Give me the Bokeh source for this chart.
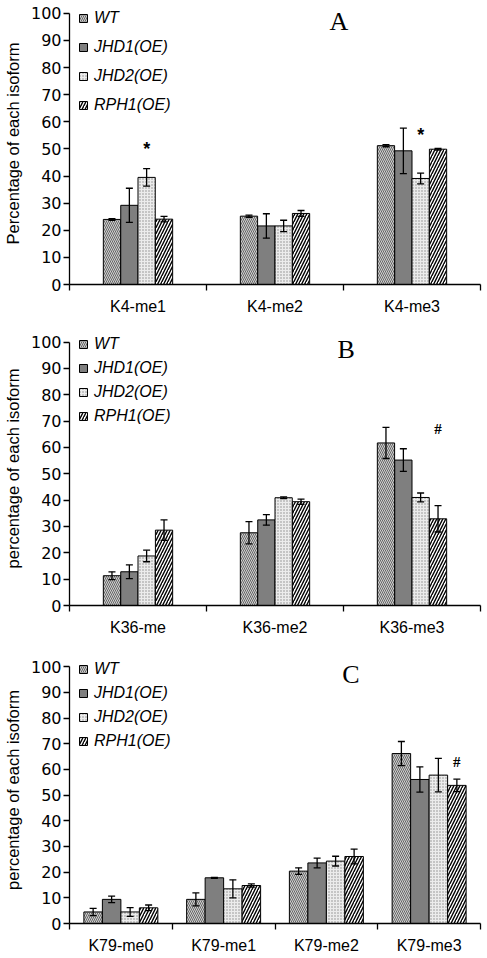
from bokeh.plotting import figure
from bokeh.models import (ColumnDataSource, Range1d, FixedTicker, Whisker, TeeHead,
                          Label, Legend)
from bokeh.layouts import column
from bokeh.core.properties import value
from bokeh.embed import file_html
from bokeh.resources import INLINE

# ---------------- data ----------------
series = ["WT", "JHD1(OE)", "JHD2(OE)", "RPH1(OE)"]

A_cats = ["K4-me1", "K4-me2", "K4-me3"]
A_WT = [24.0, 25.2, 51.2]
A_WT_err = [0.3, 0.4, 0.4]
A_JHD1 = [29.2, 21.6, 49.3]
A_JHD1_err = [6.3, 4.5, 8.4]
A_JHD2 = [39.5, 21.6, 39.1]
A_JHD2_err = [3.2, 2.1, 2.0]
A_RPH1 = [24.1, 26.2, 49.9]
A_RPH1_err = [1.0, 1.1, 0.3]
A_marks = ["*", "", "*"]          # significance marks over JHD2(OE)
A_mark_y = [49.8, 0, 55.3]

B_cats = ["K36-me", "K36-me2", "K36-me3"]
B_WT = [11.3, 27.6, 61.7]
B_WT_err = [1.5, 4.2, 5.9]
B_JHD1 = [12.8, 32.5, 55.2]
B_JHD1_err = [2.6, 2.0, 4.3]
B_JHD2 = [18.8, 40.9, 41.0]
B_JHD2_err = [2.2, 0.3, 1.7]
B_RPH1 = [28.6, 39.4, 32.9]
B_RPH1_err = [3.9, 1.0, 5.0]
B_marks = ["", "", "#"]           # marks over RPH1(OE)
B_mark_y = [0, 0, 67.0]

C_cats = ["K79-me0", "K79-me1", "K79-me2", "K79-me3"]
C_WT = [4.5, 9.4, 20.4, 66.2]
C_WT_err = [1.4, 2.5, 1.3, 4.7]
C_JHD1 = [9.4, 17.8, 23.6, 56.1]
C_JHD1_err = [1.3, 0.2, 1.9, 4.9]
C_JHD2 = [4.5, 13.5, 24.3, 57.8]
C_JHD2_err = [1.7, 3.5, 1.9, 6.5]
C_RPH1 = [6.1, 14.8, 26.1, 53.8]
C_RPH1_err = [1.1, 0.6, 2.9, 2.4]
C_marks = ["", "", "", "#"]       # marks over RPH1(OE)
C_mark_y = [0, 0, 0, 62.8]

y_ticks = list(range(0, 101, 10))

# ---------------- styles ----------------
STYLES = [
    dict(fill_color="#d0d0d0", hatch_pattern="\\", hatch_color="#4a4a4a", hatch_scale=4, hatch_weight=0.8),
    dict(fill_color="#7f7f7f"),
    dict(fill_color="#ececec", hatch_pattern=".", hatch_color="#8a8a8a", hatch_scale=3, hatch_weight=0.8),
    dict(fill_color="white", hatch_pattern="/", hatch_color="black", hatch_scale=6, hatch_weight=1.4),
]

SANS = "Liberation Sans"
TICKFONT = "DejaVu Sans"


def make_panel(cats, vals, errs, marks, mark_y, mark_series, letter, letter_x, ylabel,
               height, border_top, border_bottom, bar_w, offsets, legend_spacing, legend_vy,
               mark_font, mark_size):
    n = len(cats)
    p = figure(width=484, height=height, output_backend="svg", toolbar_location=None,
               x_range=Range1d(0, n), y_range=Range1d(0, 104),
               min_border_left=68, min_border_right=4,
               min_border_top=border_top, min_border_bottom=border_bottom)
    p.outline_line_color = None
    p.grid.visible = False
    p.background_fill_color = "white"

    centers = [i + 0.5 for i in range(n)]
    legend_items = []
    for k, name in enumerate(series):
        xs = [c + offsets[k] for c in centers]
        top = vals[k]
        err = errs[k]
        src = ColumnDataSource(dict(x=xs, top=top,
                                    upper=[t + e for t, e in zip(top, err)],
                                    lower=[t - e for t, e in zip(top, err)]))
        r = p.vbar(x="x", top="top", bottom=0, width=bar_w, source=src,
                   line_color="black", line_width=1, **STYLES[k])
        legend_items.append((name, [r]))
        w = Whisker(base="x", upper="upper", lower="lower", source=src, level="overlay",
                    line_color="black", line_width=1.3,
                    upper_head=TeeHead(size=7, line_color="black", line_width=1.3),
                    lower_head=TeeHead(size=7, line_color="black", line_width=1.3))
        p.add_layout(w)

    # significance marks
    mx = [c + offsets[mark_series] for c in centers]
    msrc = ColumnDataSource(dict(x=mx, y=mark_y, t=marks))
    p.text(x="x", y="y", text="t", source=msrc, text_align="center", text_baseline="middle",
           text_font=value(mark_font), text_font_size=mark_size, text_font_style="bold",
           text_color="black")

    # panel letter
    p.add_layout(Label(x=letter_x, y=97.0, text=letter, text_align="center",
                       text_baseline="middle", text_font="Liberation Serif",
                       text_font_size="26px", text_color="black"))

    # y axis
    ya = p.yaxis[0]
    ya.ticker = FixedTicker(ticks=y_ticks)
    ya.bounds = (0, 100)
    ya.axis_label = ylabel
    ya.axis_label_text_font = SANS
    ya.axis_label_text_font_size = "16.5px"
    ya.axis_label_text_font_style = "normal"
    ya.axis_label_text_color = "black"
    ya.axis_label_standoff = 6
    ya.major_label_text_font = TICKFONT
    ya.major_label_text_font_size = "16px"
    ya.major_label_text_color = "black"
    ya.major_label_standoff = 2
    ya.major_tick_out = 6
    ya.major_tick_in = 0
    ya.minor_tick_line_color = None
    ya.axis_line_color = "black"
    ya.axis_line_width = 1.3
    ya.major_tick_line_width = 1.3

    # x axis
    xa = p.xaxis[0]
    xa.ticker = FixedTicker(ticks=centers, minor_ticks=list(range(n + 1)))
    xa.major_label_overrides = {c: name for c, name in zip(centers, cats)}
    xa.major_label_text_font = SANS
    xa.major_label_text_font_size = "16px"
    xa.major_label_text_color = "black"
    xa.major_label_standoff = 7
    xa.major_tick_line_color = None
    xa.major_tick_out = 0
    xa.major_tick_in = 0
    xa.minor_tick_line_color = "black"
    xa.minor_tick_line_width = 1.3
    xa.minor_tick_out = 6
    xa.minor_tick_in = 0
    xa.axis_line_color = "black"
    xa.axis_line_width = 1.3

    leg = Legend(items=legend_items, location=(9, legend_vy), orientation="vertical")
    leg.glyph_width = 10
    leg.glyph_height = 10
    leg.label_height = 20
    leg.spacing = legend_spacing
    leg.padding = 0
    leg.margin = 0
    leg.label_standoff = 6
    leg.label_text_font = SANS
    leg.label_text_font_size = "16px"
    leg.label_text_font_style = "italic"
    leg.label_text_color = "black"
    leg.border_line_color = None
    leg.background_fill_alpha = 0
    p.add_layout(leg)
    return p


offs3 = [-0.19, -0.063, 0.063, 0.19]
offs4 = [-0.27, -0.09, 0.09, 0.27]

pA = make_panel(A_cats, [A_WT, A_JHD1, A_JHD2, A_RPH1],
                [A_WT_err, A_JHD1_err, A_JHD2_err, A_RPH1_err],
                A_marks, A_mark_y, 2, "A", 1.966, "Percentage of each isoform",
                height=319, border_top=2, border_bottom=35, bar_w=0.126, offsets=offs3,
                legend_spacing=9, legend_vy=169, mark_font="Liberation Sans", mark_size="18px")

pB = make_panel(B_cats, [B_WT, B_JHD1, B_JHD2, B_RPH1],
                [B_WT_err, B_JHD1_err, B_JHD2_err, B_RPH1_err],
                B_marks, B_mark_y, 3, "B", 2.02, "percentage of each isoform",
                height=319, border_top=12, border_bottom=31, bar_w=0.126, offsets=offs3,
                legend_spacing=4, legend_vy=179, mark_font="Liberation Serif", mark_size="15px")

pC = make_panel(C_cats, [C_WT, C_JHD1, C_JHD2, C_RPH1],
                [C_WT_err, C_JHD1_err, C_JHD2_err, C_RPH1_err],
                C_marks, C_mark_y, 3, "C", 2.74, "percentage of each isoform",
                height=318, border_top=18, border_bottom=31, bar_w=0.18, offsets=offs4,
                legend_spacing=4, legend_vy=172, mark_font="Liberation Serif", mark_size="15px")

layout = column(pA, pB, pC, spacing=0)
open("out.html", "w").write(file_html(layout, INLINE))
